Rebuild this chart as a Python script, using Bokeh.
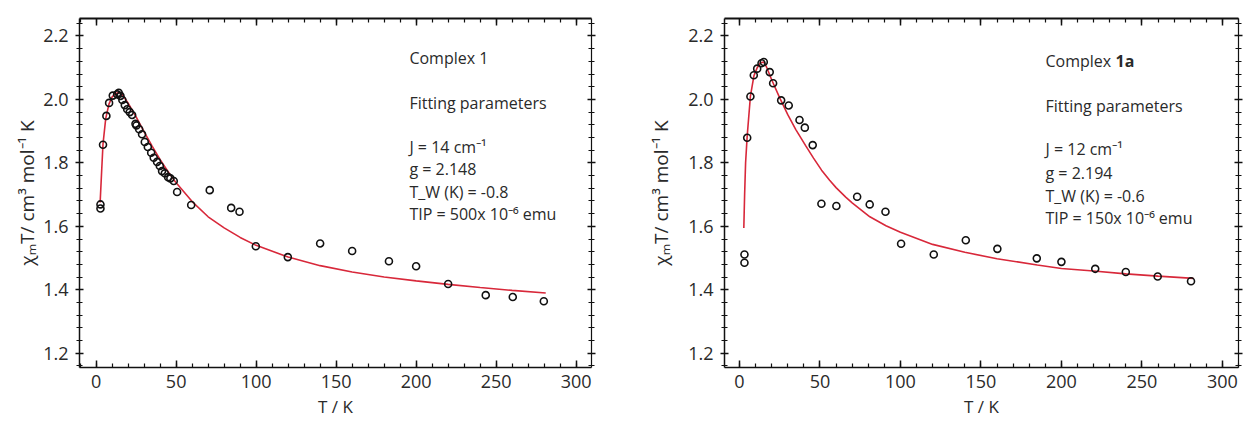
from bokeh.plotting import figure
from bokeh.layouts import row
from bokeh.models import LinearAxis, SingleIntervalTicker, Range1d, Label, NumeralTickFormatter
from bokeh.embed import file_html
from bokeh.resources import INLINE

# ---- data: Complex 1 ----
T1 = [2.7, 2.7, 4.3, 6.4, 8.1, 10.4, 13.1, 14.1, 15.2, 16.4,
      17.9, 19.4, 21.0, 22.5, 24.6, 25.2, 26.9, 28.7, 30.4, 32.3,
      34.4, 36.0, 38.1, 39.8, 41.2, 42.9, 45.0, 46.4, 48.5, 50.6,
      59.4, 71.0, 84.4, 89.6, 99.8, 119.8, 140.0, 160.0, 183.0, 200.0,
      220.0, 243.5, 260.4, 279.8]
chi1 = [1.669, 1.656, 1.857, 1.948, 1.989, 2.012, 2.016, 2.021, 2.011, 1.998,
        1.982, 1.969, 1.960, 1.951, 1.923, 1.918, 1.906, 1.890, 1.866, 1.850,
        1.832, 1.816, 1.803, 1.790, 1.774, 1.767, 1.755, 1.751, 1.743, 1.708,
        1.667, 1.714, 1.658, 1.646, 1.537, 1.503, 1.546, 1.522, 1.490, 1.474,
        1.418, 1.383, 1.377, 1.364]
fitT1 = [2.5, 3.5, 4.3, 6, 8, 10, 12, 14, 16, 18, 20, 25, 30, 35, 40, 45, 50,
         60, 70, 80, 90, 100, 120, 140, 160, 180, 200, 220, 240, 260, 281]
fit1 = [1.675, 1.78, 1.86, 1.94, 1.985, 2.008, 2.018, 2.022, 2.016, 2.003,
        1.988, 1.945, 1.898, 1.853, 1.810, 1.772, 1.737, 1.678, 1.630, 1.595,
        1.565, 1.540, 1.503, 1.476, 1.456, 1.440, 1.428, 1.417, 1.407, 1.398, 1.390]

# ---- data: Complex 1a ----
T2 = [3.1, 3.1, 4.8, 6.8, 8.9, 11.0, 13.7, 15.1, 18.8, 20.9,
      25.9, 30.6, 37.3, 40.6, 45.5, 50.9, 60.2, 73.1, 80.9, 90.7,
      100.4, 120.7, 140.6, 160.2, 184.7, 200.0, 221.0, 240.0, 259.8, 280.5]
chi2 = [1.511, 1.485, 1.879, 2.009, 2.076, 2.097, 2.114, 2.118, 2.086, 2.051,
        1.997, 1.981, 1.935, 1.911, 1.856, 1.671, 1.664, 1.693, 1.669, 1.646,
        1.545, 1.511, 1.556, 1.529, 1.499, 1.488, 1.466, 1.456, 1.442, 1.427]
fitT2 = [2.7, 3.2, 3.8, 4.8, 6.8, 9, 11, 13, 15, 17, 20, 25, 30, 35, 41, 46, 51,
         56, 60, 66, 70, 81, 91, 100, 120, 140, 160, 185, 200, 220, 240, 260, 282]
fit2 = [1.595, 1.70, 1.80, 1.885, 2.01, 2.075, 2.10, 2.115, 2.118, 2.10,
        2.062, 2.005, 1.952, 1.905, 1.855, 1.815, 1.777, 1.745, 1.722, 1.692,
        1.674, 1.630, 1.602, 1.581, 1.543, 1.518, 1.498, 1.478, 1.467, 1.459,
        1.450, 1.443, 1.436]

x_label = "T / K"
y_label = "\u03c7\u2098T/ cm\u00b3 mol\u207b\u00b9 K"
notes1 = ["Complex 1", "Fitting parameters", "J = 14 cm\u207b\u00b9", "g = 2.148",
          "T_W (K) = -0.8", "TIP = 500x 10\u207b\u2076 emu"]
notes2 = ["Complex ", "Fitting parameters", "J = 12 cm\u207b\u00b9", "g = 2.194",
          "T_W (K) = -0.6", "TIP = 150x 10\u207b\u2076 emu"]

FONT = "Open Sans"
TXT = "#2a2a2a"
RED = "#d8283a"


def style_axis(ax, tick_in, tick_out, minor_in, minor_out, labels=True, lw=1.5):
    ax.axis_line_color = "#111111"
    ax.axis_line_width = lw
    ax.major_tick_line_color = "#111111"
    ax.minor_tick_line_color = "#111111"
    ax.major_tick_line_width = 1.5
    ax.minor_tick_line_width = 1.2
    ax.major_tick_in = tick_in
    ax.major_tick_out = tick_out
    ax.minor_tick_in = minor_in
    ax.minor_tick_out = minor_out
    if labels:
        ax.major_label_text_font = FONT
        ax.major_label_text_font_size = "18px"
        ax.major_label_text_color = TXT
        ax.major_label_standoff = 7
    else:
        ax.major_label_text_font_size = "1px"
        ax.major_label_text_color = None
        ax.major_label_standoff = 0


def make(T, chi, fT, fchi, notes, xr, width, bl, br, ylab_standoff, note_x, note_y, bold=None):
    p = figure(width=width, height=421, x_range=Range1d(*xr), y_range=Range1d(1.155, 2.255),
               output_backend="svg", toolbar_location=None,
               min_border_left=bl, min_border_right=br, min_border_top=18, min_border_bottom=54,
               x_axis_location="below", y_axis_location="left")
    p.outline_line_color = None
    p.grid.visible = False
    p.background_fill_color = "white"
    p.border_fill_color = "white"

    xa = p.xaxis[0]
    xa.ticker = SingleIntervalTicker(interval=50, num_minor_ticks=5)
    style_axis(xa, 7, 0, 4, 0)
    xa.axis_label = x_label
    xa.axis_label_text_font = FONT
    xa.axis_label_text_font_size = "17px"
    xa.axis_label_text_font_style = "normal"
    xa.axis_label_text_color = TXT
    xa.axis_label_standoff = 4

    ya = p.yaxis[0]
    ya.ticker = SingleIntervalTicker(interval=0.2, num_minor_ticks=5)
    ya.formatter = NumeralTickFormatter(format="0.0")
    style_axis(ya, 4, 4, 3, 3)
    ya.axis_label = y_label
    ya.axis_label_text_font = FONT
    ya.axis_label_text_font_size = "19px"
    ya.axis_label_text_font_style = "normal"
    ya.axis_label_text_color = TXT
    ya.axis_label_standoff = ylab_standoff

    top = LinearAxis(ticker=SingleIntervalTicker(interval=50, num_minor_ticks=5))
    style_axis(top, 7, 0, 4, 0, labels=False, lw=2.2)
    p.add_layout(top, "above")

    right = LinearAxis(ticker=SingleIntervalTicker(interval=0.2, num_minor_ticks=5))
    style_axis(right, 4, 4, 3, 3, labels=False, lw=1.2)
    p.add_layout(right, "right")

    p.line(fT, fchi, line_color=RED, line_width=1.6)
    p.scatter(T, chi, marker="circle", size=7, fill_color=None,
              line_color="#111111", line_width=1.6)

    for txt, yy in zip(notes, note_y):
        p.add_layout(Label(x=note_x, y=yy, text=txt, text_font=FONT, text_font_size="16px",
                           text_color=TXT, text_baseline="alphabetic", text_align="left"))
    if bold:
        p.add_layout(Label(x=note_x, y=note_y[0], x_offset=70, text=bold, text_font=FONT,
                           text_font_size="16px", text_font_style="bold", text_color=TXT,
                           text_baseline="alphabetic", text_align="left"))
    return p


p1 = make(T1, chi1, fitT1, fit1, notes1, (-10.4, 309.6), 620, 79, 29, 0, 195.8,
          [2.1307, 1.9888, 1.8502, 1.7808, 1.7084, 1.6390])
p2 = make(T2, chi2, fitT2, fit2, notes2, (-9.3, 310.0), 631, 104, 13, 11, 190.1,
          [2.1212, 1.9794, 1.8439, 1.7683, 1.6958, 1.6264], bold="1a")

layout = row(p1, p2)
open("out.html", "w").write(file_html(layout, INLINE))
